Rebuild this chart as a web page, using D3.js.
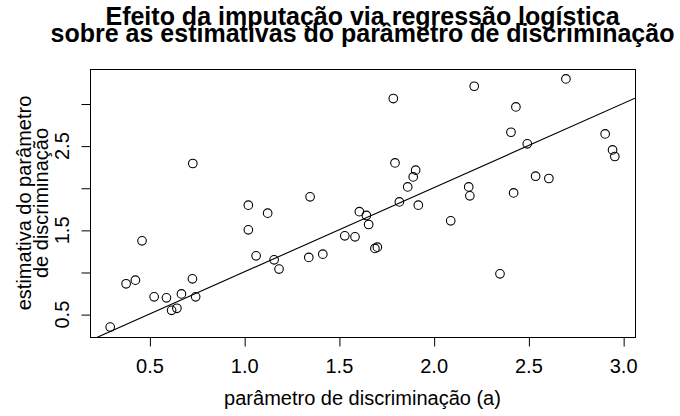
<!DOCTYPE html>
<html>
<head>
<meta charset="utf-8">
<script src="https://cdn.jsdelivr.net/npm/d3@7"></script>
<style>
  body { margin: 0; background: #fff; }
  svg text { font-family: "Liberation Sans", Arial, Helvetica, sans-serif; fill: #000; }
</style>
</head>
<body>
<div id="chart"></div>
<script>
// parâmetro de discriminação verdadeiro (a) de cada item
const paramA = [
  0.293, 0.377, 0.426, 0.461, 0.525, 0.590, 0.617, 0.645, 0.669, 0.727,
  0.729, 0.744, 1.022, 1.022, 1.063, 1.124, 1.158, 1.184, 1.341, 1.348,
  1.415, 1.531, 1.585, 1.608, 1.645, 1.657, 1.690, 1.703, 1.787, 1.796,
  1.819, 1.863, 1.892, 1.905, 1.919, 2.090, 2.185, 2.191, 2.214, 2.350,
  2.408, 2.422, 2.434, 2.494, 2.538, 2.608, 2.698, 2.905, 2.944, 2.956
];
// estimativa depois da imputação via regressão logística
const estimates = [
  0.346, 0.860, 0.903, 1.370, 0.705, 0.693, 0.545, 0.569, 0.740, 0.919,
  2.288, 0.705, 1.793, 1.500, 1.192, 1.698, 1.144, 1.034, 1.173, 1.892,
  1.212, 1.429, 1.417, 1.716, 1.671, 1.564, 1.280, 1.295, 3.059, 2.295,
  1.832, 2.010, 2.129, 2.209, 1.793, 1.607, 2.010, 1.904, 3.205, 0.978,
  2.659, 1.939, 2.960, 2.521, 2.137, 2.110, 3.292, 2.639, 2.449, 2.371
];
const xTicks = [0.5, 1.0, 1.5, 2.0, 2.5, 3.0];
const xTickLabels = ['0.5', '1.0', '1.5', '2.0', '2.5', '3.0'];
const yTicks = [0.5, 1.0, 1.5, 2.0, 2.5, 3.0];
const yTickLabels = ['0.5', '', '1.5', '', '2.5', ''];
// reta de referência y = a + b x
const refIntercept = 0;
const refSlope = 1;

const titleLines = ['Efeito da imputação via regressão logística',
                    'sobre as estimativas do parâmetro de discriminação'];
const xLabel = 'parâmetro de discriminação (a)';
const yLabelLines = ['estimativa do parâmetro', 'de discriminação'];

const W = 680, H = 416;
const box = { left: 90, right: 635, top: 69, bottom: 337 };

const svg = d3.select('#chart').append('svg')
  .attr('width', W)
  .attr('height', H);

// R style limits: data range padded by 4% on each side
function padded(vals) {
  const [lo, hi] = d3.extent(vals);
  const p = (hi - lo) * 0.04;
  return [lo - p, hi + p];
}

const x = d3.scaleLinear().domain(padded(paramA)).range([box.left, box.right]);
const y = d3.scaleLinear().domain(padded(estimates)).range([box.bottom, box.top]);

// clip for the reference line
svg.append('clipPath').attr('id', 'plotclip')
  .append('rect')
  .attr('x', box.left).attr('y', box.top)
  .attr('width', box.right - box.left).attr('height', box.bottom - box.top);

// reference line
const [x0, x1] = x.domain();
svg.append('line')
  .attr('clip-path', 'url(#plotclip)')
  .attr('x1', x(x0)).attr('y1', y(refIntercept + refSlope * x0))
  .attr('x2', x(x1)).attr('y2', y(refIntercept + refSlope * x1))
  .attr('stroke', '#000')
  .attr('stroke-width', 1.1);

// points
svg.append('g')
  .selectAll('circle')
  .data(paramA.map((a, i) => [a, estimates[i]]))
  .join('circle')
  .attr('cx', d => x(d[0]))
  .attr('cy', d => y(d[1]))
  .attr('r', 4.3)
  .attr('fill', 'none')
  .attr('stroke', '#000')
  .attr('stroke-width', 1.1);

// box
svg.append('rect')
  .attr('x', box.left + 0.5).attr('y', box.top + 0.5)
  .attr('width', box.right - box.left).attr('height', box.bottom - box.top)
  .attr('fill', 'none')
  .attr('stroke', '#000')
  .attr('stroke-width', 1);

// x axis
const xAxis = svg.append('g')
  .attr('transform', `translate(0, ${box.bottom + 0.5})`)
  .call(d3.axisBottom(x)
    .tickValues(xTicks)
    .tickSize(9)
    .tickFormat((d, i) => xTickLabels[i]));
xAxis.select('.domain').remove();
xAxis.selectAll('.tick line').attr('stroke', '#000').attr('transform', 'translate(0.5,0)');
xAxis.selectAll('.tick text')
  .attr('font-family', null)
  .style('font-size', '20px')
  .attr('y', 0).attr('dy', null)
  .attr('transform', 'translate(0, 35)');

// y axis
const yAxis = svg.append('g')
  .attr('transform', `translate(${box.left + 0.5}, 0)`)
  .call(d3.axisLeft(y)
    .tickValues(yTicks)
    .tickSize(9)
    .tickFormat((d, i) => yTickLabels[i]));
yAxis.select('.domain').remove();
yAxis.selectAll('.tick line').attr('stroke', '#000').attr('transform', 'translate(0,0.5)');
yAxis.selectAll('.tick text')
  .attr('font-family', null)
  .style('font-size', '20px')
  .attr('x', 0).attr('dy', null)
  .attr('text-anchor', 'middle')
  .attr('transform', 'translate(-22, 0) rotate(-90)');

// title
const cx = (box.left + box.right) / 2;
svg.append('g')
  .selectAll('text')
  .data(titleLines)
  .join('text')
  .attr('x', cx)
  .attr('y', (d, i) => 25 + i * 17)
  .attr('text-anchor', 'middle')
  .style('font-size', '25px')
  .style('font-weight', 'bold')
  .text(d => d);

// x label
svg.append('text')
  .attr('x', cx)
  .attr('y', 405)
  .attr('text-anchor', 'middle')
  .style('font-size', '20px')
  .text(xLabel);

// y label
const cy = (box.top + box.bottom) / 2;
svg.append('g')
  .selectAll('text')
  .data(yLabelLines)
  .join('text')
  .attr('text-anchor', 'middle')
  .attr('transform', (d, i) => `translate(${31 + i * 17}, ${cy}) rotate(-90)`)
  .style('font-size', '20px')
  .text(d => d);
</script>
</body>
</html>
